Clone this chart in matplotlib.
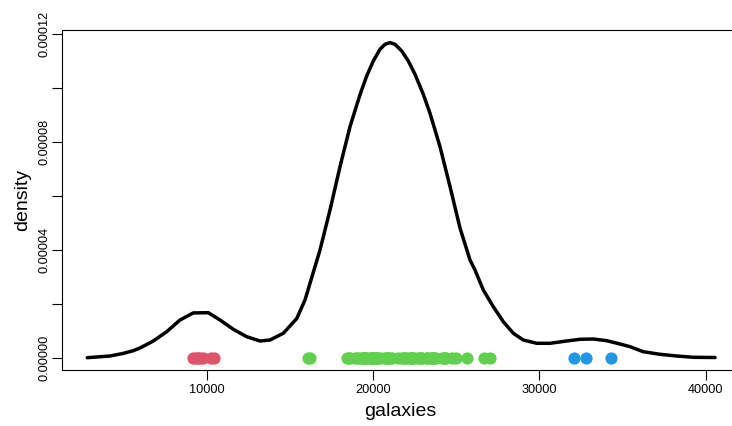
import matplotlib
matplotlib.use("Agg")
import matplotlib.pyplot as plt
import numpy as np

plt.rcParams['font.family'] = ['Liberation Sans', 'DejaVu Sans']

# Galaxy velocities (km/s), grouped by fitted mixture component
velocity_group1 = [9172, 9350, 9483, 9558, 9775, 10227, 10406]
velocity_group2 = [16084, 16170, 18419, 18552, 18600, 18927, 19052, 19070,
                   19330, 19343, 19349, 19440, 19473, 19529, 19541, 19547,
                   19663, 19846, 19856, 19863, 19914, 19918, 19973, 19989,
                   20166, 20175, 20179, 20196, 20215, 20221, 20415, 20629,
                   20795, 20821, 20846, 20875, 20986, 21137, 21492, 21701,
                   21814, 21921, 21960, 22185, 22209, 22242, 22249, 22314,
                   22374, 22495, 22746, 22747, 22888, 22914, 23206, 23241,
                   23263, 23484, 23538, 23542, 23666, 23706, 23711, 24129,
                   24285, 24289, 24366, 24717, 24990, 25633, 26690, 26995]
velocity_group3 = [32065, 32789, 34279]

# Estimated density curve
density_x = [2800, 4165, 4965, 5566, 5969, 6770, 7576, 8376, 9176, 10078,
             10782, 11582, 12388, 13188, 13790, 14590, 15396, 15895, 16196,
             16798, 17399, 18001, 18602, 19204, 19607, 20004, 20407, 20708,
             21009, 21310, 21713, 22110, 22513, 23012, 23415, 24017, 24618,
             25220, 25822, 26122, 26622, 27223, 27825, 28426, 29028, 29834,
             30634, 31639, 32439, 33239, 34045, 34845, 35447, 36247, 37251,
             38256, 39255, 40560]
density_y = [0.0, 6.3e-7, 1.6e-6, 2.6e-6, 3.6e-6, 6.2e-6, 9.64e-6,
             1.398e-5, 1.66e-5, 1.668e-5, 1.398e-5, 1.053e-5, 7.78e-6,
             6.19e-6, 6.56e-6, 9.05e-6, 1.45e-5, 2.139e-5, 2.758e-5,
             3.993e-5, 5.475e-5, 7.081e-5, 8.564e-5, 9.75e-5, 1.0443e-4,
             1.0999e-4, 1.1433e-4, 1.1618e-4, 1.168e-4, 1.1618e-4, 1.137e-4,
             1.0999e-4, 1.0506e-4, 9.765e-5, 9.06e-5, 7.822e-5, 6.347e-5,
             4.808e-5, 3.622e-5, 3.251e-5, 2.51e-5, 1.891e-5, 1.335e-5,
             9.05e-6, 6.56e-6, 5.34e-6, 5.34e-6, 6.19e-6, 6.82e-6, 6.93e-6,
             6.30e-6, 5.08e-6, 4.08e-6, 2.22e-6, 1.26e-6, 6.3e-7, 1.5e-7,
             7e-8]

x_ticks = [10000, 20000, 30000, 40000]
y_ticks = [0.0, 0.00002, 0.00004, 0.00006, 0.00008, 0.00010, 0.00012]
y_tick_labels = ["0.00000", "", "0.00004", "", "0.00008", "", "0.00012"]

group_colors = ["#DF536B", "#61D04F", "#2297E6"]

W, H = 732, 426
fig = plt.figure(figsize=(W / 100, H / 100), dpi=100)
ax = fig.add_axes([62 / W, (H - 370) / H, (740 - 62) / W, (370 - 30) / H])

ax.plot(density_x, density_y, color="black", linewidth=2.5,
        solid_joinstyle="round", solid_capstyle="round", zorder=2)

for vals, col in zip([velocity_group1, velocity_group2, velocity_group3], group_colors):
    ax.plot(vals, np.zeros(len(vals)), linestyle="none", marker="o",
            markersize=8.8, markeredgewidth=0, color=col, zorder=3)

ax.set_xlim(1277, 42064)
ax.set_ylim(-4.56e-6, 1.2148e-4)

ax.set_xticks(x_ticks)
ax.set_xticklabels([str(t) for t in x_ticks])
ax.set_yticks(y_ticks)
ax.set_yticklabels(y_tick_labels, rotation=90, va="center")

ax.tick_params(axis="both", length=7.2, width=0.8, labelsize=9.2, colors="black")
ax.tick_params(axis="x", pad=3)
ax.tick_params(axis="y", pad=1)

for s in ax.spines.values():
    s.set_linewidth(0.8)

fig.text(400 / W, 1 - 411 / H, "galaxies", ha="center", va="center", fontsize=14)
fig.text(23 / W, 1 - 200 / H, "density", ha="center", va="center", fontsize=14,
         rotation=90)

fig.savefig("out.png", dpi=100)
